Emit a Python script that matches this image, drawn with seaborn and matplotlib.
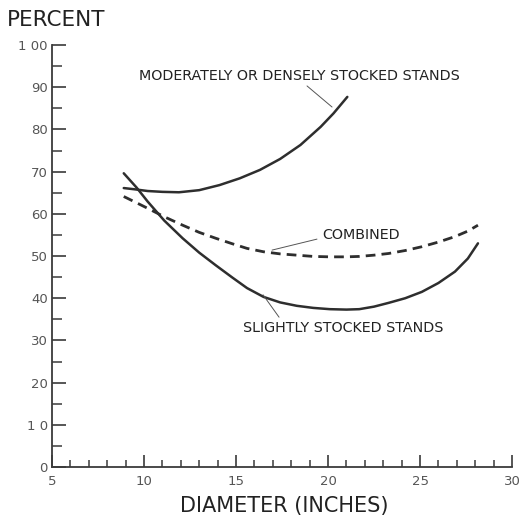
import matplotlib
matplotlib.use("Agg")
import matplotlib.pyplot as plt
import seaborn as sns
from matplotlib.ticker import MultipleLocator

# ---- data ----
dense_x = [8.9, 9.5, 10.2, 11.0, 11.9, 13.0, 14.1, 15.2, 16.3, 17.4, 18.5, 19.6, 20.3, 21.05]
dense_y = [66.1, 65.8, 65.4, 65.2, 65.1, 65.6, 66.8, 68.4, 70.4, 73.0, 76.3, 80.6, 83.8, 87.7]

slight_x = [8.9, 9.6, 10.2, 11.1, 12.1, 13.0, 13.9, 14.8, 15.6, 16.5, 17.4, 18.3, 19.2, 20.1,
            21.0, 21.7, 22.5, 23.3, 24.2, 25.1, 26.0, 26.9, 27.6, 28.15]
slight_y = [69.6, 66.2, 62.9, 58.4, 54.2, 50.8, 47.8, 44.9, 42.4, 40.3, 39.0, 38.2, 37.7, 37.4,
            37.3, 37.4, 38.0, 38.9, 40.0, 41.5, 43.6, 46.3, 49.4, 53.0]

comb_x = [8.9, 9.6, 10.2, 11.1, 12.1, 13.0, 13.9, 14.8, 15.6, 16.5, 17.4, 18.3, 19.2, 20.1,
          21.0, 21.7, 22.5, 23.3, 24.2, 25.1, 26.0, 26.9, 27.6, 28.15]
comb_y = [64.1, 62.6, 61.3, 59.3, 57.3, 55.6, 54.2, 52.9, 51.8, 51.0, 50.5, 50.2, 49.9, 49.8,
          49.8, 49.9, 50.2, 50.6, 51.3, 52.2, 53.3, 54.6, 55.9, 57.3]

x_ticks = [5, 10, 15, 20, 25, 30]
y_ticks = [0, 10, 20, 30, 40, 50, 60, 70, 80, 90, 100]
y_ticklabels = ["0", "1 0", "20", "30", "40", "50", "60", "70", "80", "90", "1 00"]

labels = ["MODERATELY OR DENSELY STOCKED STANDS", "COMBINED", "SLIGHTLY STOCKED STANDS"]

sns.set_theme(style="white")
plt.rcParams['font.family'] = ['DejaVu Sans']

fig = plt.figure(figsize=(5.25, 5.23), dpi=100)
ax = fig.add_axes([52/525, 1-467/523, (512-52)/525, (467-45)/523])

lc = "#2e2e2e"
sns.lineplot(x=dense_x, y=dense_y, ax=ax, color=lc, lw=1.8, sort=False)
sns.lineplot(x=slight_x, y=slight_y, ax=ax, color=lc, lw=1.8, sort=False)
sns.lineplot(x=comb_x, y=comb_y, ax=ax, color=lc, lw=2.0, sort=False,
             linestyle=(0, (3.5, 2.2)))

ax.set_xlim(5, 30)
ax.set_ylim(0, 100)
ax.set_xticks(x_ticks)
ax.set_yticks(y_ticks)
ax.set_xticklabels([str(v) for v in x_ticks])
ax.set_yticklabels(y_ticklabels)
ax.xaxis.set_minor_locator(MultipleLocator(1))
ax.yaxis.set_minor_locator(MultipleLocator(5))

for s in ["top", "right"]:
    ax.spines[s].set_visible(False)
for s in ["left", "bottom"]:
    ax.spines[s].set_color("#3a3a3a")
    ax.spines[s].set_linewidth(1.3)

tcol = "#3a3a3a"
ax.tick_params(axis="y", which="major", direction="in", length=10, width=1.2,
               color=tcol, labelsize=9.5, labelcolor="#555555", left=True, pad=3)
ax.tick_params(axis="x", which="major", direction="in", length=9, width=1.2,
               color=tcol, labelsize=9.5, labelcolor="#555555", bottom=True, pad=6)
ax.tick_params(axis="y", which="minor", direction="in", length=7, width=1.1, color=tcol, left=True)
ax.tick_params(axis="x", which="minor", direction="in", length=5, width=1.1, color=tcol, bottom=True)
ax.set_facecolor("white")
ax.grid(False)

tc = "#222222"
fs = 10.3
ax.text(9.75, 92.7, labels[0], fontsize=fs, color=tc, va="center", ha="left")
ax.plot([18.86, 20.22], [90.3, 85.3], color="#555555", lw=0.7)

ax.text(19.7, 55.0, labels[1], fontsize=fs, color=tc, va="center", ha="left")
ax.plot([16.96, 19.40], [51.4, 54.0], color="#555555", lw=0.7)

ax.text(15.4, 33.0, labels[2], fontsize=fs, color=tc, va="center", ha="left")
ax.plot([16.47, 17.34], [40.8, 35.5], color="#555555", lw=0.7)

fig.text(7/525, 1-20/523, "PERCENT", fontsize=15.5, color=tc, ha="left", va="center")
fig.text(284/525, 1-506/523, "DIAMETER (INCHES)", fontsize=15, color=tc, ha="center", va="center")

fig.savefig("out.png", dpi=100, facecolor="white")
